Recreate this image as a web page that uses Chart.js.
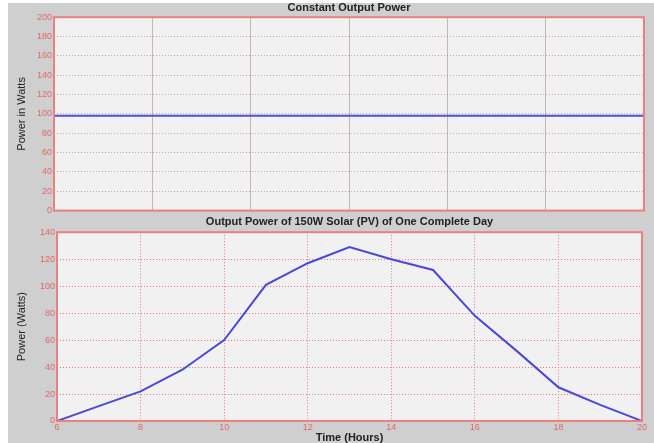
<!DOCTYPE html>
<html>
<head>
<meta charset="utf-8">
<script src="https://cdn.jsdelivr.net/npm/chart.js@4"></script>
<style>
  html, body { margin: 0; padding: 0; background: #ffffff; width: 654px; height: 443px; overflow: hidden; }
  #bg { position: absolute; left: 8px; top: 3px; width: 646px; height: 440px; background: #cfcfcf; }
  canvas { position: absolute; left: 0; }
  #c1 { top: 0; }
  #c2 { top: 212px; }
</style>
</head>
<body>
<div id="bg"></div>
<canvas id="c1" width="654" height="218"></canvas>
<canvas id="c2" width="654" height="233"></canvas>
<script>
// ---- data ----
const constantX = [0, 6];
const constantPower = [98, 98];
const hours = [6, 7, 8, 9, 10, 11, 12, 13, 14, 15, 16, 17, 18, 19, 20];
const solarPower = [0, 11, 22, 38, 60, 101, 117, 129, 120, 112, 78, 52, 25, 12, 0];
const topTitle = 'Constant Output Power';
const bottomTitle = 'Output Power of 150W Solar (PV) of One Complete Day';
const topYLabel = 'Power in Watts';
const bottomYLabel = 'Power (Watts)';
const bottomXLabel = 'Time (Hours)';

const tickColor = '#e06868';
const frameColor = '#ea8080';

const framePlugin = {
  id: 'frame',
  beforeDraw(chart) {
    const a = chart.chartArea, ctx = chart.ctx;
    ctx.save();
    ctx.fillStyle = '#f1f1f1';
    ctx.fillRect(a.left, a.top, a.right - a.left, a.bottom - a.top);
    ctx.restore();
  },
  afterDraw(chart) {
    const a = chart.chartArea, ctx = chart.ctx;
    ctx.save();
    ctx.strokeStyle = frameColor;
    ctx.lineWidth = 2;
    ctx.strokeRect(a.left, a.top, a.right - a.left, a.bottom - a.top);
    ctx.restore();
  }
};

const narrow = "'Liberation Sans Narrow', 'Liberation Sans', Arial, sans-serif";
const sans = "'Liberation Sans', Arial, sans-serif";

function pts(xs, ys) { return xs.map((x, i) => ({ x: x, y: ys[i] })); }

new Chart(document.getElementById('c1'), {
  type: 'line',
  data: { datasets: [{ data: pts(constantX, constantPower), borderColor: '#4f4fe0', borderWidth: 2, pointRadius: 0, tension: 0 }] },
  options: {
    responsive: false, animation: false,
    layout: { padding: { left: 0, right: 10, top: 1, bottom: 0 } },
    plugins: {
      legend: { display: false }, tooltip: { enabled: false },
      title: { display: true, text: topTitle, fullSize: false, color: '#222', font: { family: sans, size: 11, weight: 'bold' }, padding: { top: 0, bottom: 3 } }
    },
    scales: {
      x: {
        type: 'linear', min: 0, max: 6,
        ticks: { display: false, stepSize: 1 },
        grid: { color: '#c9b4b4', lineWidth: 1, drawTicks: false },
        border: { display: false },
        afterFit(s) { s.height = 7; }
      },
      y: {
        min: 0, max: 200,
        ticks: { stepSize: 20, color: tickColor, font: { family: sans, size: 9 }, padding: 2 },
        grid: { color: 'rgba(160,140,140,0.7)', lineWidth: 1, drawTicks: false },
        border: { display: false, dash: [1, 2] },
        title: { display: true, text: topYLabel, color: '#222', font: { family: narrow, size: 11 }, padding: { top: 15, bottom: 0 } },
        afterFit(s) { s.width = 54; }
      }
    }
  },
  plugins: [framePlugin]
});

new Chart(document.getElementById('c2'), {
  type: 'line',
  data: { datasets: [{ data: pts(hours, solarPower), borderColor: '#4b48d8', borderWidth: 2, pointRadius: 0, tension: 0 }] },
  options: {
    responsive: false, animation: false,
    layout: { padding: { left: 0, right: 12, top: 0, bottom: 0 } },
    plugins: {
      legend: { display: false }, tooltip: { enabled: false },
      title: { display: true, text: bottomTitle, fullSize: false, color: '#222', font: { family: sans, size: 11, weight: 'bold' }, padding: { top: 3, bottom: 4 } }
    },
    scales: {
      x: {
        type: 'linear', min: 6, max: 20,
        ticks: { stepSize: 2, color: tickColor, font: { family: sans, size: 9 }, padding: 1 },
        grid: { color: '#e77a7a', lineWidth: 1, drawTicks: false },
        border: { display: false, dash: [1, 2] },
        title: { display: true, text: bottomXLabel, color: '#222', font: { family: sans, size: 11, weight: 'bold' }, padding: { top: 0, bottom: 0 } },
        afterFit(s) { s.height = 24; }
      },
      y: {
        min: 0, max: 140,
        ticks: { stepSize: 20, color: tickColor, font: { family: sans, size: 9 }, padding: 2 },
        grid: { color: '#e77a7a', lineWidth: 1, drawTicks: false },
        border: { display: false, dash: [1, 2] },
        title: { display: true, text: bottomYLabel, color: '#222', font: { family: narrow, size: 11 }, padding: { top: 15, bottom: 0 } },
        afterFit(s) { s.width = 57; }
      }
    }
  },
  plugins: [framePlugin]
});
</script>
</body>
</html>
